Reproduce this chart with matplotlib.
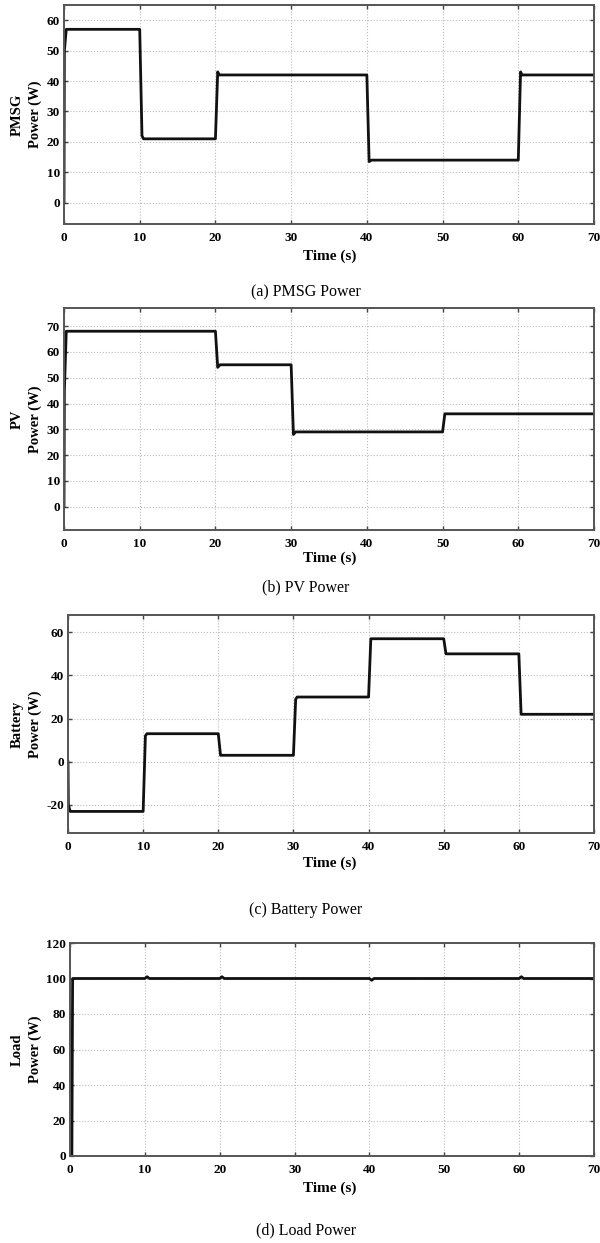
import matplotlib
matplotlib.use("Agg")
import matplotlib.pyplot as plt

plt.rcParams['font.family'] = ['Liberation Serif', 'DejaVu Serif']
plt.rcParams['axes.unicode_minus'] = False

# ---- data ----
pmsg_t = [0, 0.05, 0.3, 10.0, 10.3, 10.5, 20.0, 20.3, 20.5, 40.0, 40.3, 40.6, 60.0, 60.3, 60.5, 70]
pmsg_p = [0, 50, 57, 57, 22, 21, 21, 43, 42, 42, 13.5, 14, 14, 43, 42, 42]

pv_t = [0, 0.05, 0.3, 20.0, 20.3, 20.6, 30.0, 30.3, 30.6, 50.0, 50.3, 50.5, 70]
pv_p = [0, 45, 68, 68, 54, 55, 55, 28, 29, 29, 36, 36, 36]

bat_t = [0, 0.05, 0.3, 10.0, 10.3, 10.5, 20.0, 20.3, 20.5, 30.0, 30.3, 30.5, 40.0, 40.3, 40.5, 50.0, 50.3, 60.0, 60.3, 70]
bat_p = [0, -20, -23, -23, 12, 13, 13, 3, 3, 3, 29, 30, 30, 57, 57, 57, 50, 50, 22, 22]

load_t = [0, 0.25, 0.35, 0.6, 10.0, 10.3, 10.6, 20.0, 20.3, 20.6, 40.0, 40.3, 40.6, 60.0, 60.3, 60.6, 70]
load_p = [0, 0, 100, 100, 100, 101, 100, 100, 101, 100, 100, 99, 100, 100, 101, 100, 100]

xticks = [0, 10, 20, 30, 40, 50, 60, 70]

panels = [
    dict(t=pmsg_t, p=pmsg_p, ylab="PMSG\nPower (W)", yticks=[0, 10, 20, 30, 40, 50, 60],
         ylim=(-7, 65), cap="(a) PMSG Power",
         box=(64, 5, 594, 224), xl_y=256, cap_y=292, lab_x=42),
    dict(t=pv_t, p=pv_p, ylab="PV\nPower (W)", yticks=[0, 10, 20, 30, 40, 50, 60, 70],
         ylim=(-9, 77), cap="(b) PV Power",
         box=(64, 308, 594, 530), xl_y=558, cap_y=587, lab_x=42),
    dict(t=bat_t, p=bat_p, ylab="Battery\nPower (W)", yticks=[-20, 0, 20, 40, 60],
         ylim=(-33, 68), cap="(c) Battery Power",
         box=(68, 615, 594, 833), xl_y=863, cap_y=910, lab_x=42),
    dict(t=load_t, p=load_p, ylab="Load\nPower (W)", yticks=[0, 20, 40, 60, 80, 100, 120],
         ylim=(0, 120), cap="(d) Load Power",
         box=(70, 943, 594, 1156), xl_y=1188, cap_y=1230, lab_x=42),
]

W, H = 600, 1243
fig = plt.figure(figsize=(W / 100, H / 100), dpi=100)

for pn in panels:
    x0, y0, x1, y1 = pn['box']
    ax = fig.add_axes([x0 / W, 1 - y1 / H, (x1 - x0) / W, (y1 - y0) / H])
    ax.plot(pn['t'], pn['p'], color='#111111', lw=2.0)
    ax.set_xlim(0, 70)
    ax.set_ylim(*pn['ylim'])
    ax.set_xticks(xticks)
    ax.set_yticks(pn['yticks'])
    ax.grid(True, linestyle=':', color='#bbbbbb', lw=0.8)
    ax.tick_params(direction='in', top=True, right=True, length=3, width=1,
                   labelsize=9.5, color='#444444')
    ax.tick_params(axis='x', pad=6)
    ax.tick_params(axis='y', pad=3)
    for lbl in ax.get_xticklabels() + ax.get_yticklabels():
        lbl.set_fontweight('bold')
    for s in ax.spines.values():
        s.set_linewidth(1.4)
        s.set_color('#555555')
    ax.set_ylabel(pn['ylab'], fontsize=10.5, fontweight='bold', linespacing=1.5)
    ax.yaxis.set_label_coords((pn['lab_x'] - x0) / (x1 - x0), 0.5)
    fig.text(330 / W, 1 - pn['xl_y'] / H, "Time (s)", fontsize=11, fontweight='bold',
             ha='center', va='center')
    fig.text(306 / W, 1 - pn['cap_y'] / H, pn['cap'], fontsize=11.5,
             ha='center', va='center')

fig.savefig("out.png", dpi=100)
